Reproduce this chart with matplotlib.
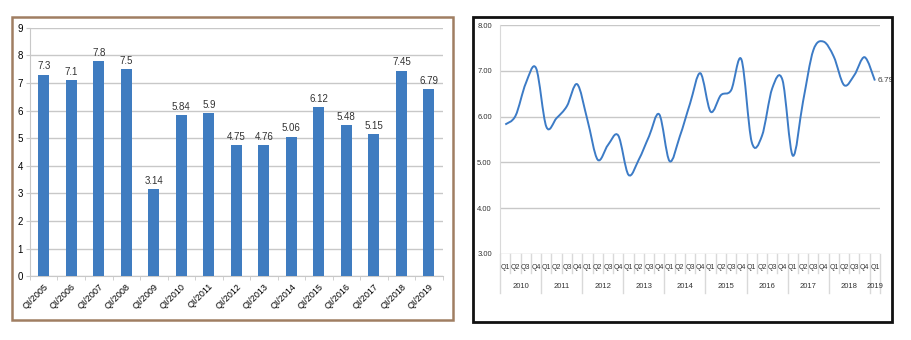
import numpy as np
import matplotlib
matplotlib.use("Agg")
from matplotlib import pyplot as plt
from matplotlib.path import Path
from matplotlib.patches import PathPatch, Rectangle

plt.rcParams['font.family'] = ['Liberation Sans Narrow', 'Liberation Sans', 'DejaVu Sans']

# left: GDP growth in Q1 of each year
bar_labels = ["QI/2005", "QI/2006", "QI/2007", "QI/2008", "QI/2009", "QI/2010", "QI/2011",
              "QI/2012", "QI/2013", "QI/2014", "QI/2015", "QI/2016", "QI/2017", "QI/2018", "QI/2019"]
bar_values = [7.3, 7.1, 7.8, 7.5, 3.14, 5.84, 5.9, 4.75, 4.76, 5.06, 6.12, 5.48, 5.15, 7.45, 6.79]
bar_texts = ["7.3", "7.1", "7.8", "7.5", "3.14", "5.84", "5.9", "4.75", "4.76", "5.06",
             "6.12", "5.48", "5.15", "7.45", "6.79"]

# right: quarterly growth 2010 Q1 .. 2019 Q1
years = ["2010", "2011", "2012", "2013", "2014", "2015", "2016", "2017", "2018", "2019"]
quarters = ["Q1", "Q2", "Q3", "Q4"]
q_values = [5.83, 6.02, 6.73, 7.06,
            5.78, 5.97, 6.23, 6.71,
            5.93, 5.06, 5.38, 5.59,
            4.73, 5.06, 5.57, 6.05,
            5.03, 5.57, 6.29, 6.95,
            6.11, 6.47, 6.58, 7.25,
            5.45, 5.58, 6.62, 6.80,
            5.15, 6.33, 7.45, 7.64,
            7.31, 6.69, 6.91, 7.30,
            6.79]

bar_color = '#3f7cc0'
grid_color = '#c8c8c8'

fig = plt.figure(figsize=(9.11, 3.4), dpi=100)

# panel borders
fig.patches.append(Rectangle((0.0132, 0.059), 0.484, 0.891, transform=fig.transFigure,
                             fill=False, edgecolor='#a07e62', linewidth=1.8))
fig.patches.append(Rectangle((0.519, 0.053), 0.460, 0.897, transform=fig.transFigure,
                             fill=False, edgecolor='#111111', linewidth=2.0))

# ---- bar chart ----
ax1 = fig.add_axes([0.0329, 0.188, 0.453, 0.730])
x = np.arange(len(bar_values))
ax1.bar(x, bar_values, width=0.4, color=bar_color, zorder=3)
for xi, v, t in zip(x, bar_values, bar_texts):
    ax1.text(xi, v + 0.12, t, ha='center', va='bottom', fontsize=7, color='#333333')
ax1.set_xlim(-0.5, len(bar_values) - 0.5)
ax1.set_ylim(0, 9)
ax1.set_yticks(range(0, 10))
ax1.yaxis.grid(True, color=grid_color, linewidth=1)
ax1.set_axisbelow(True)
ax1.set_xticks(x)
ax1.set_xticklabels(bar_labels, rotation=45, ha='right', rotation_mode='anchor', fontsize=6.5)
ax1.set_xticks(np.arange(-0.5, len(bar_values), 1), minor=True)
ax1.tick_params(axis='x', which='major', length=0, pad=4)
ax1.tick_params(axis='x', which='minor', length=3, color=grid_color)
ax1.tick_params(axis='y', length=3, color=grid_color, labelsize=7, pad=2)
for s in ['top', 'right']:
    ax1.spines[s].set_visible(False)
ax1.spines['left'].set_color(grid_color)
ax1.spines['bottom'].set_color(grid_color)

# ---- line chart ----
ax2 = fig.add_axes([0.549, 0.253, 0.417, 0.673])
n = len(q_values)
xs = np.arange(n, dtype=float)
ys = np.array(q_values)
# smooth curve like Excel (Catmull-Rom bezier through the points)
verts = [(xs[0], ys[0])]
codes = [Path.MOVETO]
for i in range(n - 1):
    p0 = np.array([xs[max(i - 1, 0)], ys[max(i - 1, 0)]])
    p1 = np.array([xs[i], ys[i]])
    p2 = np.array([xs[i + 1], ys[i + 1]])
    p3 = np.array([xs[min(i + 2, n - 1)], ys[min(i + 2, n - 1)]])
    c1 = p1 + (p2 - p0) / 6
    c2 = p2 - (p3 - p1) / 6
    verts += [tuple(c1), tuple(c2), tuple(p2)]
    codes += [Path.CURVE4] * 3
ax2.add_patch(PathPatch(Path(verts, codes), fill=False, edgecolor='#3c7bc6', linewidth=1.4, zorder=3))
ax2.text(xs[-1] + 0.25, ys[-1], "6.79", fontsize=6, color='#444444', va='center', ha='left')

ax2.set_xlim(-0.5, n - 0.5)
ax2.set_ylim(3, 8)
ax2.set_yticks([3, 4, 5, 6, 7, 8])
ax2.set_yticklabels(["3.00", "4.00", "5.00", "6.00", "7.00", "8.00"])
ax2.tick_params(axis='y', length=0, labelsize=5.5, pad=6, labelcolor='#333333')
ax2.yaxis.grid(True, color=grid_color, linewidth=1)
ax2.set_axisbelow(True)
ax2.set_xticks([])
for s in ['top', 'right', 'bottom']:
    ax2.spines[s].set_visible(False)
ax2.spines['left'].set_color('#d9d9d9')
ax2.spines['left'].set_bounds(3, 8)

tr = ax2.get_xaxis_transform()
ax2.plot([-0.5, -0.5], [0, -0.17], transform=tr, color='#d9d9d9', lw=1, clip_on=False)
for i in range(n):
    ax2.text(i, -0.061, quarters[i % 4], transform=tr, ha='center', va='center',
             fontsize=5, color='#333333')
    b = i + 0.5
    if (i + 1) % 4 == 0 or i == n - 1:
        ax2.plot([b, b], [0, -0.17], transform=tr, color='#d9d9d9', lw=1, clip_on=False)
    else:
        ax2.plot([b, b], [0, -0.085], transform=tr, color='#d9d9d9', lw=1, clip_on=False)
for k, yr in enumerate(years):
    start = 4 * k
    end = min(4 * k + 3, n - 1)
    ax2.text((start + end) / 2, -0.14, yr, transform=tr, ha='center', va='center',
             fontsize=5.5, color='#333333')

fig.savefig("out.png", dpi=100)
